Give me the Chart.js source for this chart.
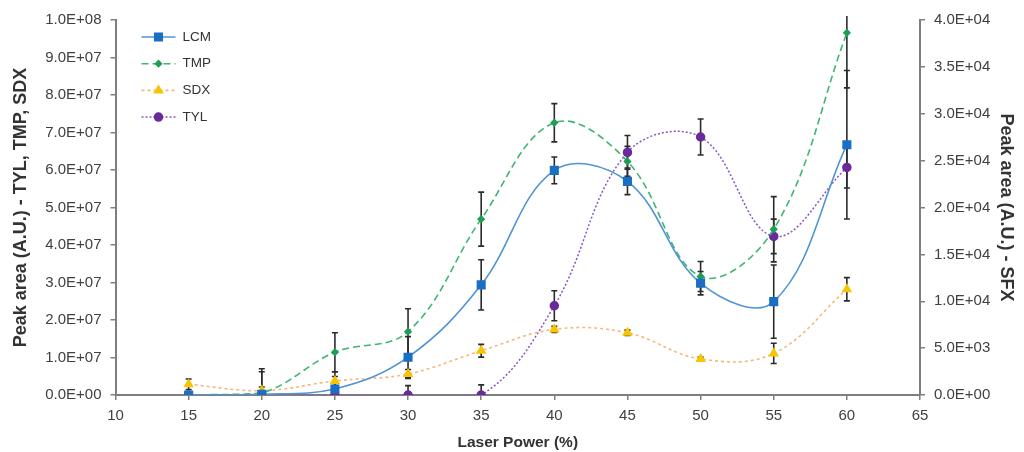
<!DOCTYPE html>
<html>
<head>
<meta charset="utf-8">
<script src="https://cdn.jsdelivr.net/npm/chart.js@4.4.1/dist/chart.umd.min.js"></script>
<style>
  html, body { margin: 0; padding: 0; background: #fff; }
</style>
</head>
<body>
<canvas id="myChart" width="1024" height="452"></canvas>
<script>
const laserPower = [15, 20, 25, 30, 35, 40, 45, 50, 55, 60];

// LCM is read against the right-hand axis
const lcm    = [0, 80, 640, 4030, 11750, 23960, 22790, 11930, 9960, 26700];
const lcmErr = [0, 2400, 1840, 2200, 2680, 1420, 1420, 1250, 3900, 7920];

const tmp    = [0, 5.0e5, 1.14e7, 1.69e7, 4.69e7, 7.26e7, 6.23e7, 3.16e7, 4.42e7, 9.66e7];
const tmpErr = [0, 6.5e6, 5.2e6, 6.1e6, 7.2e6, 5.1e6, 4.0e6, 4.0e6, 8.7e6, 1.47e7];

const sdx    = [2.86e6, 1.15e6, 3.74e6, 5.6e6, 1.18e7, 1.75e7, 1.66e7, 9.6e6, 1.11e7, 2.82e7];
const sdxErr = [1.4e6, 1.0e6, 1.2e6, 1.2e6, 1.7e6, 0.8e6, 0.7e6, 0.5e6, 2.7e6, 3.1e6];

const tyl    = [0, 0, 0, 0, 0, 2.38e7, 6.47e7, 6.88e7, 4.23e7, 6.07e7];
const tylErr = [0, 0, 0, 2.5e6, 2.7e6, 4.0e6, 4.5e6, 4.8e6, 4.6e6, 5.5e6];

const FONT = '"Liberation Sans", Arial, sans-serif';

function toPoints(values) {
    return values.map((v, i) => ({ x: laserPower[i], y: v }));
}

// "1.0E+08" style labels
function sci(v) {
    const [m, e] = Number(v).toExponential(1).split("e");
    const n = Math.abs(parseInt(e, 10));
    return m + "E" + (e[0] === "-" ? "-" : "+") + String(n).padStart(2, "0");
}

// vertical error bars with caps, drawn under the lines
const errorBars = {
    id: "errorBars",
    beforeDatasetsDraw(chart) {
        const { ctx, chartArea } = chart;
        ctx.save();
        ctx.beginPath();
        ctx.rect(chartArea.left, chartArea.top - 4, chartArea.width, chartArea.height + 4);
        ctx.clip();
        ctx.strokeStyle = "#2b2b2b";
        ctx.lineWidth = 1.6;
        chart.data.datasets.forEach((ds, i) => {
            const meta = chart.getDatasetMeta(i);
            const scale = chart.scales[ds.yAxisID];
            ds.errors.forEach((e, j) => {
                if (!e) return;
                const x = meta.data[j].x;
                const v = ds.data[j].y;
                const yTop = scale.getPixelForValue(v + e);
                const yBot = scale.getPixelForValue(v - e);
                ctx.beginPath();
                ctx.moveTo(x, yTop);
                ctx.lineTo(x, yBot);
                ctx.moveTo(x - 3, yTop);
                ctx.lineTo(x + 3, yTop);
                ctx.moveTo(x - 3, yBot);
                ctx.lineTo(x + 3, yBot);
                ctx.stroke();
            });
        });
        ctx.restore();
    }
};

// legend box sitting inside the plot, top left
const insideLegend = {
    id: "insideLegend",
    afterDraw(chart) {
        const { ctx, chartArea } = chart;
        const x0 = chartArea.left + 26;
        ctx.save();
        chart.data.datasets.forEach((ds, i) => {
            const y = chartArea.top + 17 + i * 26.7;
            ctx.strokeStyle = ds.borderColor;
            ctx.lineWidth = ds.borderWidth;
            ctx.setLineDash(ds.borderDash || []);
            ctx.beginPath();
            ctx.moveTo(x0, y);
            ctx.lineTo(x0 + 34, y);
            ctx.stroke();
            ctx.setLineDash([]);
            ctx.fillStyle = ds.pointBackgroundColor;
            ctx.strokeStyle = ds.pointBorderColor;
            Chart.helpers.drawPoint(ctx, {
                pointStyle: ds.pointStyle,
                radius: ds.pointRadius,
                rotation: 0,
                borderWidth: 1
            }, x0 + 17, y);
            ctx.fillStyle = "#333";
            ctx.font = "13.5px " + FONT;
            ctx.textBaseline = "middle";
            ctx.fillText(ds.label, x0 + 41, y);
        });
        ctx.restore();
    }
};

const axisColor = "#7f7f7f";
const tickFont = { family: FONT, size: 15 };

const ctx = document.getElementById("myChart").getContext("2d");

new Chart(ctx, {
    type: "line",
    data: {
        datasets: [
            {
                label: "LCM",
                data: toPoints(lcm),
                errors: lcmErr,
                yAxisID: "y1",
                borderColor: "#4f95d3",
                borderWidth: 1.6,
                pointStyle: "rect",
                pointRadius: 5.3,
                pointBackgroundColor: "#1b6fc2",
                pointBorderColor: "#1b6fc2",
                tension: 0.38
            },
            {
                label: "TMP",
                data: toPoints(tmp),
                errors: tmpErr,
                yAxisID: "y",
                borderColor: "#3fb574",
                borderWidth: 1.6,
                borderDash: [7, 4],
                pointStyle: "rectRot",
                pointRadius: 3,
                pointBackgroundColor: "#1f9e55",
                pointBorderColor: "#1f9e55",
                tension: 0.38
            },
            {
                label: "SDX",
                data: toPoints(sdx),
                errors: sdxErr,
                yAxisID: "y",
                borderColor: "#f7b77c",
                borderWidth: 1.6,
                borderDash: [3, 3],
                pointStyle: "triangle",
                pointRadius: 4.5,
                pointBackgroundColor: "#f6c400",
                pointBorderColor: "#f6c400",
                tension: 0.38
            },
            {
                label: "TYL",
                data: toPoints(tyl),
                errors: tylErr,
                yAxisID: "y",
                borderColor: "#8b55c2",
                borderWidth: 1.5,
                borderDash: [2, 2],
                pointStyle: "circle",
                pointRadius: 4,
                pointBackgroundColor: "#6a2a9c",
                pointBorderColor: "#6a2a9c",
                tension: 0.38
            }
        ]
    },
    options: {
        responsive: false,
        animation: false,
        layout: { padding: { left: 4, right: 4, top: 20, bottom: 0 } },
        plugins: {
            legend: { display: false },
            tooltip: { enabled: false }
        },
        scales: {
            x: {
                type: "linear",
                min: 10,
                max: 65,
                afterFit: s => { s.height = 57; },
                border: { color: axisColor, width: 2 },
                grid: { drawOnChartArea: false, drawTicks: true, tickLength: 5, color: axisColor, lineWidth: 1.5 },
                ticks: { stepSize: 5, padding: 7, color: "#404040", font: tickFont },
                title: {
                    display: true,
                    text: "Laser Power (%)",
                    color: "#333",
                    padding: { top: 0, bottom: 0 },
                    font: { family: FONT, size: 15.5, weight: "bold" }
                }
            },
            y: {
                position: "left",
                min: 0,
                max: 1e8,
                afterFit: s => { s.width = 111.5; },
                border: { color: axisColor, width: 2 },
                grid: { drawOnChartArea: false, drawTicks: true, tickLength: 5, color: axisColor, lineWidth: 1.5 },
                ticks: { stepSize: 1e7, padding: 9, color: "#404040", font: tickFont, callback: sci },
                title: {
                    display: true,
                    text: "Peak area (A.U.) - TYL, TMP, SDX",
                    color: "#333",
                    padding: { top: 6.5, bottom: 0 },
                    font: { family: FONT, size: 18, weight: "bold" }
                }
            },
            y1: {
                position: "right",
                min: 0,
                max: 4e4,
                afterFit: s => { s.width = 100; },
                border: { color: axisColor, width: 2 },
                grid: { drawOnChartArea: false, drawTicks: true, tickLength: 5, color: axisColor, lineWidth: 1.5 },
                ticks: { stepSize: 5e3, padding: 9, color: "#404040", font: tickFont, callback: sci },
                title: {
                    display: true,
                    text: "Peak area (A.U.) - SFX",
                    color: "#333",
                    padding: { top: 3, bottom: 0 },
                    font: { family: FONT, size: 18, weight: "bold" }
                }
            }
        }
    },
    plugins: [errorBars, insideLegend]
});
</script>
</body>
</html>
